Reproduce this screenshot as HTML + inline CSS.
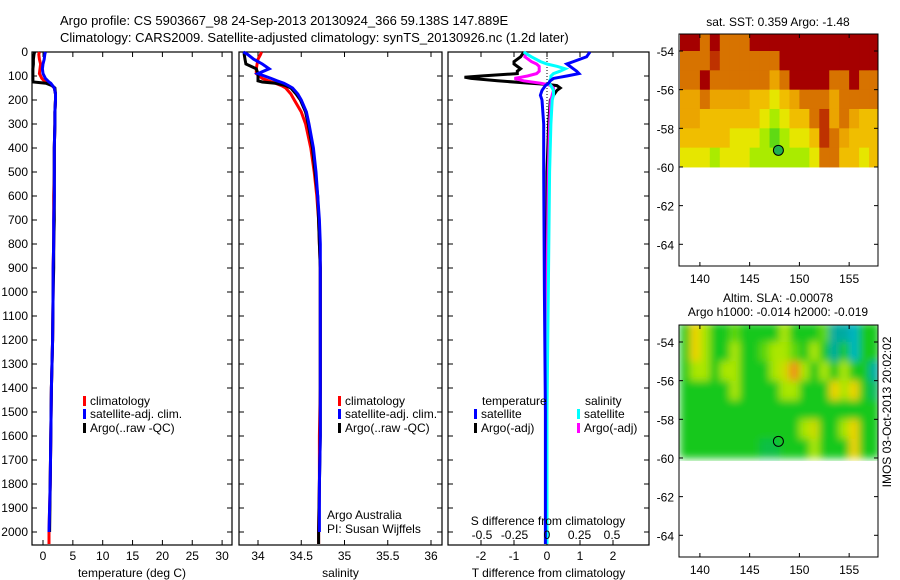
<!DOCTYPE html>
<html><head><meta charset="utf-8"><style>
body{margin:0;background:#fff;}
svg{display:block;font-family:"Liberation Sans",sans-serif;font-size:12px;}
</style></head><body>
<svg id="c" width="900" height="580" viewBox="0 0 900 580" xmlns="http://www.w3.org/2000/svg">
<defs>
<filter id="blur" x="-5%" y="-5%" width="110%" height="110%"><feGaussianBlur stdDeviation="4"/></filter>
<clipPath id="clipSst"><rect x="679" y="34" width="199" height="136"/></clipPath>
<clipPath id="clipSla"><rect x="679" y="325" width="199" height="136"/></clipPath>
</defs>
<text x="60" y="25" font-size="13">Argo profile: CS 5903667_98 24-Sep-2013 20130924_366 59.138S 147.889E</text>
<text x="60" y="42" font-size="13">Climatology: CARS2009. Satellite-adjusted climatology: synTS_20130926.nc (1.2d later)</text>
<g id="g"></g>
</svg>
<script>
const depthTS = [0,10,30,50,70,90,110,120,125,130,140,150,175,200,250,300,400,500,600,700,800,900,1000,1200,1400,1600,1800,2000,2050];
const tempArgo = [-1.4,-1.5,-1.6,-1.6,-1.7,-1.7,-1.7,-1.7,-1.6,0.5,1.5,2.0,2.1,2.1,2.0,2.0,1.9,1.9,1.9,1.9,1.8,1.8,1.7,1.6,1.4,1.3,1.2,1.1,1.1];
const tempClim = [-0.6,-0.7,-0.6,-0.4,-0.5,-0.6,-0.2,0.2,0.5,1.0,1.5,1.9,2.1,2.1,2.0,2.0,1.9,1.9,1.8,1.8,1.8,1.7,1.7,1.6,1.4,1.3,1.2,1.0,1.0];
const tempSat = [0.4,0.3,0.2,0.0,-0.1,0.0,0.4,0.8,1.0,1.3,1.6,1.9,2.1,2.1,2.0,2.0,1.9,1.9,1.9,1.8,1.8,1.7,1.7,1.6,1.4,1.3,1.2,1.0,1.0];
const salArgo = [33.84,33.84,33.85,33.86,33.98,34.0,34.0,34.0,34.05,34.2,34.32,34.38,34.44,34.49,34.55,34.58,34.63,34.66,34.69,34.70,34.71,34.72,34.72,34.72,34.72,34.72,34.71,34.70,34.70];
const salClim = [34.04,34.03,34.0,33.99,33.98,33.98,34.05,34.12,34.16,34.2,34.27,34.32,34.38,34.42,34.5,34.55,34.61,34.65,34.68,34.70,34.71,34.72,34.72,34.72,34.72,34.71,34.71,34.70,34.70];
const salSat = [33.83,33.88,33.95,34.05,34.13,34.0,34.15,34.22,34.26,34.3,34.35,34.4,34.46,34.5,34.56,34.59,34.64,34.67,34.69,34.71,34.72,34.72,34.72,34.72,34.72,34.72,34.71,34.71,34.71];
const depthD = [0,20,40,50,60,70,80,90,100,105,110,120,130,135,140,150,160,180,200,300,500,1000,1500,2050];
const tdArgo = [-0.7,-0.8,-1.0,-1.0,-0.9,-0.8,-0.9,-0.9,-2.0,-2.5,-2.3,-1.5,-0.5,0.0,0.3,0.4,0.3,0.2,0.1,0.05,0.0,0.0,0.0,0.0];
const tdSat = [1.3,1.2,0.8,0.6,0.7,0.8,0.9,0.97,0.6,0.4,0.2,0.1,0.05,0.0,-0.05,-0.1,-0.15,-0.2,-0.15,-0.1,-0.1,-0.08,-0.05,-0.05];
const sdSat = [-0.18,-0.12,-0.05,0.0,0.08,0.14,0.1,0.05,0.03,0.03,0.03,0.02,0.02,0.02,0.03,0.04,0.05,0.05,0.04,0.03,0.02,0.01,0.0,0.0];
const sdArgo = [-0.16,-0.17,-0.12,-0.08,-0.06,-0.06,-0.06,-0.08,-0.15,-0.2,-0.25,-0.18,-0.05,0.0,0.03,0.05,0.05,0.04,0.03,0.02,0.01,0.0,0.0,0.0];
const depthTicks = [0,100,200,300,400,500,600,700,800,900,1000,1100,1200,1300,1400,1500,1600,1700,1800,1900,2000];
const tempTicks = [0,5,10,15,20,25,30];
const salTicks = [34,34.5,35,35.5,36];
const tdTicks = [-2,-1,0,1,2];
const sdTicks = [-0.5,-0.25,0,0.25,0.5];
const mapLons = [140,145,150,155];
const mapLats = [-54,-56,-58,-60,-62,-64];
const sstGrid = [
[4,4,3,4,3,3,3,4,4,4,4,4,4,4,4,4,4,4,4,4],
[3,3,3,3.5,3,3,3,3,3,3,4,4,4,4,4,4,4,4,4,4],
[3,3,4,3,3,3,3,3,3,2.5,3,4,4,4,4,3,3,4,3,3],
[2.5,2.5,3,2.5,2.5,2.5,2.5,2,2,1.5,2,2.5,3,3,3,2.5,3,3,3,3],
[2.5,2.5,2,2,2,2,2,2,1.5,1,1.5,2,2,3,3.5,2.5,3,2.5,2,2],
[2,2,2,2,2,1.5,1.5,1.5,1,0.5,1,1.5,1.5,2,3.5,3,2.5,2,2,2],
[1.5,1.5,1.5,1,1.5,1.5,1.5,1,1,1,1,1,1,1.5,3,3,2,2,1.5,2]];
const slaGrid = [
[0,2,1,0,0,0.5,0,0,0,0,1,0,0,0,0.5,-1,-1,-1.5,0,0],
[0,2,1,0,0,1,0,0,0.5,1,1,0.5,0,1,0,-1,0,-1.5,0,0],
[0,1,1,0,1,1,0,0,0,1,1.5,3,1,0,1,0,1,0,0,-1],
[0,0,0,0,0,1,0,0,0,0,1,1,0,0,0,2,1,2,0,-0.5],
[0,0,0,0,0,0,0,0,0,0,0,0,0,0,0,0,0,0,0,0],
[0,0,0,0,0,0,0,0,0,0,0,0,1,1.5,0,0,1,2,0,0],
[0,0,0,0,0,0,0,0,-0.3,-0.3,0,0,0,1,0,0,0,2,0,0]];
const floatLon = 147.889, floatLat = -59.138;

const NS='http://www.w3.org/2000/svg';
const G=document.getElementById('g');
function el(t,a,p){const e=document.createElementNS(NS,t);for(const k in a)e.setAttribute(k,a[k]);(p||G).appendChild(e);return e;}
function txt(x,y,s,anchor,p){const e=el('text',{x:x,y:y,'text-anchor':anchor||'start'},p);e.textContent=s;return e;}
const plotTop=52, plotBot=545;
const yD=d=>plotTop+d*0.24;

function panel(name,x0,x1,xs,ticks,lbl,showY){
  const g=el('g',{});
  
  
  const r=el('rect',{x:x0,y:plotTop,width:x1-x0,height:plotBot-plotTop,fill:'none',stroke:'#000','stroke-width':1.2},g);
  
  
  depthTicks.forEach(d=>{const y=yD(d);
    el('line',{x1:x0,x2:x0+5,y1:y,y2:y,stroke:'#000'},g);
    el('line',{x1:x1-5,x2:x1,y1:y,y2:y,stroke:'#000'},g);
    if(showY){const t=txt(x0-4,y+4,String(d),'end',g);
      
      }
  });
  ticks.forEach(v=>{const x=xs(v);
    el('line',{x1:x,x2:x,y1:plotBot,y2:plotBot-5,stroke:'#000'},g);
    el('line',{x1:x,x2:x,y1:plotTop,y2:plotTop+5,stroke:'#000'},g);
    const t=txt(x,560,String(v),'middle',g);
    
    
  });
  const t=txt((x0+x1)/2,577,lbl,'middle',g);
  
  
  return g;
}
function line(g,xs,depths,vals,color,name,w){
  const pts=depths.map((d,i)=>xs(vals[i]).toFixed(1)+','+yD(d).toFixed(1)).join(' ');
  const p=el('polyline',{points:pts,fill:'none',stroke:color,'stroke-width':w||3,'stroke-linejoin':'miter'},g);
  
  
}
function legend(g,x,y,color,label){
  el('rect',{x:x,y:y-9,width:3,height:10,fill:color},g);
  const t=txt(x+7,y,label,'start',g);
  
  
}
const xT=v=>43+v*5.97;
const p1=panel('temperature-panel',32,232,xT,tempTicks,'temperature (deg C)',true);
line(p1,xT,depthTS,tempClim,'#f00','temp-climatology-line');
line(p1,xT,depthTS.slice(0,28),tempArgo.slice(0,28),'#000','temp-argo-line');
line(p1,xT,depthTS.slice(0,28),tempSat.slice(0,28),'#00f','temp-satellite-line');
legend(p1,83,405,'#f00','climatology');legend(p1,83,418,'#00f','satellite-adj. clim.');legend(p1,83,432,'#000','Argo(..raw -QC)');
const xS=v=>258+(v-34)*86.5;
const p2=panel('salinity-panel',239,442,xS,salTicks,'salinity',false);
line(p2,xS,depthTS,salClim,'#f00','sal-climatology-line');
line(p2,xS,depthTS,salArgo,'#000','sal-argo-line');
line(p2,xS,depthTS.slice(0,28),salSat.slice(0,28),'#00f','sal-satellite-line');
legend(p2,338,405,'#f00','climatology');legend(p2,338,418,'#00f','satellite-adj. clim.');legend(p2,338,432,'#000','Argo(..raw -QC)');
{const a=txt(327,519,'Argo Australia','start',p2);
 const b=txt(327,533,'PI: Susan Wijffels','start',p2);}
const xTD=v=>547+v*33;
const xSD=v=>547+v*130;
const p3=panel('difference-panel',448,649,xTD,tdTicks,'T difference from climatology',false);
el('line',{x1:547,x2:547,y1:plotTop,y2:plotBot,stroke:'#000','stroke-dasharray':'1,2'},p3);
line(p3,xTD,depthD,tdArgo,'#000','tdiff-argo-line');
line(p3,xSD,depthD,sdArgo,'#f0f','sdiff-argo-line');
line(p3,xSD,depthD,sdSat,'#0ff','sdiff-satellite-line');
line(p3,xTD,depthD,tdSat,'#00f','tdiff-satellite-line');
{const a=txt(548,525,'S difference from climatology','middle',p3);}
sdTicks.forEach(v=>{const t=txt(xSD(v),539,String(v),'middle',p3);});
{const a=txt(482,405,'temperature','start',p3);
 const b=txt(585,405,'salinity','start',p3);}
legend(p3,474,418,'#00f','satellite');legend(p3,474,432,'#000','Argo(-adj)');
legend(p3,577,418,'#0ff','satellite');legend(p3,577,432,'#f0f','Argo(-adj)');
el('polyline',{points:'641,52 649,52 649,545 641,545',fill:'none',stroke:'#000'});

function lerpC(stops,v){
  if(v<=stops[0][0])return 'rgb('+stops[0][1].join(',')+')';
  for(let i=1;i<stops.length;i++){if(v<=stops[i][0]){const a=stops[i-1],b=stops[i],t=(v-a[0])/(b[0]-a[0]);
    return 'rgb('+[0,1,2].map(k=>Math.round(a[1][k]+(b[1][k]-a[1][k])*t)).join(',')+')';}}
  const l=stops[stops.length-1][1];return 'rgb('+l.join(',')+')';
}
const sstStops=[[0,[20,200,40]],[1,[170,235,0]],[1.5,[230,230,0]],[2,[240,190,0]],[2.5,[235,165,0]],[3,[215,115,0]],[3.5,[190,50,0]],[4,[165,0,0]]];
const slaStops=[[-2,[0,190,230]],[-1,[0,170,160]],[0,[20,200,30]],[1,[170,230,0]],[2,[240,210,0]],[3,[240,140,20]]];
function mapPanel(name,y0,grid,colorFn,filledCircle,clipId,blur){
  const g=el('g',{});
  
  
  const x0=679,x1=878,y1=y0+232;
  const lx=lon=>680+(lon-138)*9.95;
  const ly=lat=>y0+17+(-54-lat)*19.33;
  const clipG=el('g',{'clip-path':'url(#'+clipId+')'},g);
  const cells=el('g',blur?{filter:'url(#blur)'}:{},clipG);
  grid.forEach((row,r)=>row.forEach((v,c)=>{
    const rc=el('rect',{x:lx(138+c)-(blur?0:0),y:ly(-53-r),width:10.4,height:19.8,fill:colorFn(v)},cells);
    
    
  }));
  el('rect',{x:x0,y:y0,width:x1-x0,height:y1-y0,fill:'none',stroke:'#000'},g);
  mapLons.forEach(l=>{const x=lx(l);el('line',{x1:x,x2:x,y1:y1,y2:y1-4,stroke:'#000'},g);el('line',{x1:x,x2:x,y1:y0,y2:y0+4,stroke:'#000'},g);
    const t=txt(x,y1+17,String(l),'middle',g);});
  mapLats.forEach(l=>{const y=ly(l);el('line',{x1:x0,x2:x0+4,y1:y,y2:y,stroke:'#000'},g);el('line',{x1:x1-4,x2:x1,y1:y,y2:y,stroke:'#000'},g);
    const t=txt(674,y+5,String(l),'end',g);});
  const c=el('circle',{cx:lx(floatLon),cy:ly(floatLat),r:5,fill:filledCircle?'#20b050':'none',stroke:'#000','stroke-width':1},g);
  
  
}
mapPanel('sst-map',34,sstGrid,v=>lerpC(sstStops,v),true,'clipSst',false);
mapPanel('sla-map',325,slaGrid,v=>lerpC(slaStops,v),false,'clipSla',true);
{const a=txt(778,26,'sat. SST: 0.359 Argo: -1.48','middle');
 const b=txt(778,302,'Altim. SLA: -0.00078','middle');
 const c=txt(778,316,'Argo h1000: -0.014 h2000: -0.019','middle');
 const d=txt(0,0,'IMOS 03-Oct-2013 20:02:02','middle');d.setAttribute('transform','translate(891,412) rotate(-90)');}
</script>
</body></html>
